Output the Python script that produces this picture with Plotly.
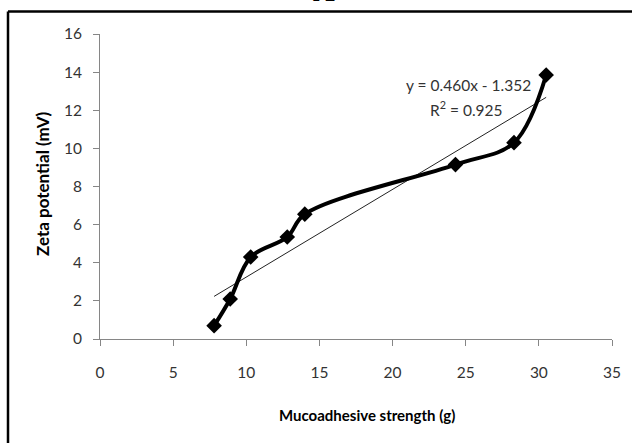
import plotly.graph_objects as go

# Data
mucoadhesive_strength = [7.8, 8.9, 10.3, 12.8, 14.0, 24.3, 28.3, 30.5]
zeta_potential = [0.7, 2.1, 4.3, 5.35, 6.55, 9.15, 10.3, 13.85]
slope = 0.460
intercept = -1.352
x_ticks = [0, 5, 10, 15, 20, 25, 30, 35]
y_ticks = [0, 2, 4, 6, 8, 10, 12, 14, 16]

trend_x = [min(mucoadhesive_strength), max(mucoadhesive_strength)]
trend_y = [slope * v + intercept for v in trend_x]

W, H = 632, 443
L, R, T, B = 100, 20, 34, 104
pw, ph = W - L - R, H - T - B

def px2paper_x(px):
    return (px - L) / pw

def px2paper_y(py):
    return (H - B - py) / ph

fig = go.Figure()
fig.add_trace(go.Scatter(
    x=trend_x, y=trend_y, mode="lines",
    line=dict(color="#222222", width=1), showlegend=False, hoverinfo="skip"))
fig.add_trace(go.Scatter(
    x=mucoadhesive_strength, y=zeta_potential, mode="lines+markers",
    line=dict(color="black", width=4, shape="spline", smoothing=1.0),
    marker=dict(symbol="diamond", size=12, color="black"),
    showlegend=False))

font_family = "Lato, Open Sans, sans-serif"
axis_common = dict(
    showgrid=False, zeroline=False, showline=True, linecolor="#868686", linewidth=1,
    ticks="outside", ticklen=6, tickcolor="#868686", tickwidth=1,
    tickfont=dict(family=font_family, size=15.5, color="#333333"),
)

def ann(text, px, py, size, color, family=font_family, **kw):
    d = dict(text=text, xref="paper", yref="paper",
             x=px2paper_x(px), y=px2paper_y(py), xanchor="center", yanchor="middle",
             showarrow=False, font=dict(family=family, size=size, color=color))
    d.update(kw)
    return d

fig.update_layout(
    width=W, height=H,
    margin=dict(l=L, r=R, t=T, b=B),
    paper_bgcolor="white", plot_bgcolor="white",
    xaxis=dict(range=[0, 35], tickvals=x_ticks, ticklabelstandoff=13, **axis_common),
    yaxis=dict(range=[0, 16], tickvals=y_ticks, ticklabelstandoff=8, **axis_common),
    shapes=[
        dict(type="line", xref="paper", yref="paper",
             x0=px2paper_x(8), x1=px2paper_x(700), y0=px2paper_y(11.5), y1=px2paper_y(11.5),
             line=dict(color="black", width=2.5)),
        dict(type="line", xref="paper", yref="paper",
             x0=px2paper_x(8), x1=px2paper_x(8), y0=px2paper_y(11.5), y1=px2paper_y(500),
             line=dict(color="black", width=2.5)),
    ],
    annotations=[
        ann("y = 0.460x - 1.352", 468, 85, 15.5, "#333333"),
        ann("R<sup>2</sup> = 0.925", 466, 108, 15.5, "#333333"),
        ann("<b>Mucoadhesive strength (g)</b>", 367, 415, 15, "black"),
        ann("<b>Zeta potential (mV)</b>", 42, 184, 17, "black", textangle=-90),
        ann("<b>A</b>", 324, 9, 30, "black", family="Liberation Serif", yanchor="bottom"),
    ],
)

fig.write_html("out.html")
